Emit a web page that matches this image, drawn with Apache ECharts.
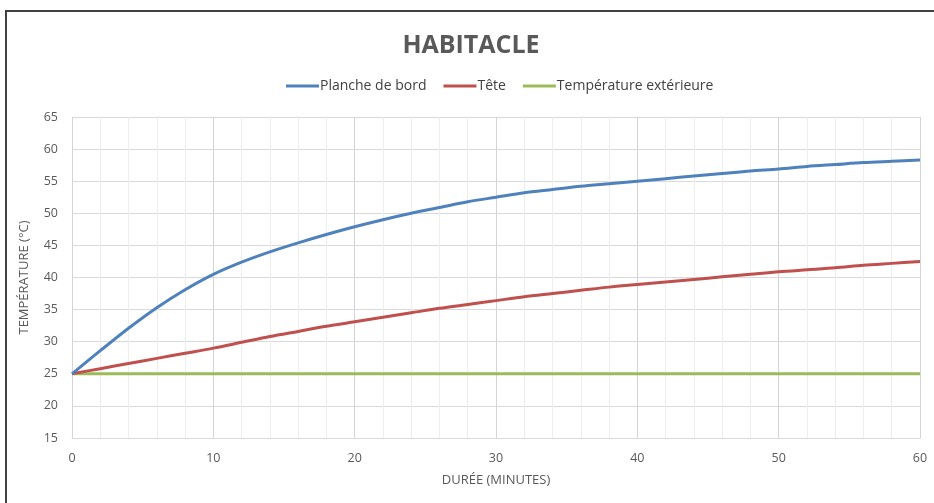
<!DOCTYPE html>
<html>
<head>
<meta charset="utf-8">
<script src="https://cdn.jsdelivr.net/npm/echarts@6/dist/echarts.min.js"></script>
<style>html,body{margin:0;padding:0;background:#fff}#c{width:934px;height:503px}</style>
</head>
<body>
<div id="c"></div>
<script>
const minutes = [0,2,4,6,8,10,12,14,16,18,20,22,24,26,28,30,32,34,36,38,40,42,44,46,48,50,52,54,56,58,60];
const planche = [25,28.6,32.1,35.3,38.1,40.5,42.4,44.0,45.4,46.7,47.9,49.0,50.0,50.9,51.8,52.5,53.2,53.7,54.2,54.6,55.0,55.4,55.8,56.2,56.6,56.9,57.3,57.6,57.9,58.1,58.3];
const tete = [25,25.8,26.6,27.4,28.2,29.0,29.9,30.8,31.6,32.4,33.1,33.8,34.5,35.2,35.8,36.4,37.0,37.5,38.0,38.5,38.9,39.3,39.7,40.1,40.5,40.9,41.2,41.5,41.9,42.2,42.5];
const exterieure = [25,25,25,25,25,25,25,25,25,25,25,25,25,25,25,25,25,25,25,25,25,25,25,25,25,25,25,25,25,25,25];
const seriesNames = ['Planche de bord','Tête','Température extérieure'];
const yTicks = {min:15, max:65, interval:5};
const xTicks = {min:0, max:60, interval:10};

const font = '"Open Sans", sans-serif';
const pair = arr => minutes.map((m,i)=>[m,arr[i]]);
const colors = ['#4f81bd','#c0504d','#9bbb59'];
const datasets = [planche, tete, exterieure];

const chart = echarts.init(document.getElementById('c'));
chart.setOption({
  animation:false,
  title:{text:'HABITACLE', left:466, top:28, textAlign:'center',
    textStyle:{fontFamily:font, fontWeight:'bold', fontSize:25, color:'#595959'}},
  legend:{top:74, left:281, itemWidth:33, itemHeight:3, itemGap:17, icon:'rect',
    textStyle:{fontFamily:font, fontSize:14, color:'#404040', padding:[0,0,0,-4]},
    data:seriesNames},
  graphic:[{type:'rect', shape:{x:6, y:11, width:960, height:520}, style:{fill:'none', stroke:'#404040', lineWidth:2}, silent:true}],
  grid:{left:72, right:14, top:117, bottom:65},
  xAxis:{type:'value', min:xTicks.min, max:xTicks.max, interval:xTicks.interval,
    name:'DURÉE (MINUTES)', nameLocation:'middle', nameGap:36,
    nameTextStyle:{fontFamily:font, fontSize:13, color:'#595959'},
    axisLine:{show:true, lineStyle:{color:'#d9d9d9'}}, axisTick:{show:false},
    axisLabel:{fontFamily:font, fontSize:12.5, color:'#595959', margin:14},
    splitLine:{show:true, lineStyle:{color:'#d4d4d4'}},
    minorTick:{show:false, splitNumber:5},
    minorSplitLine:{show:true, lineStyle:{color:'#ededed'}}},
  yAxis:{type:'value', min:yTicks.min, max:yTicks.max, interval:yTicks.interval,
    name:'TEMPÉRATURE (°C)', nameLocation:'middle', nameGap:41,
    nameTextStyle:{fontFamily:font, fontSize:13, color:'#595959'},
    axisLine:{show:false}, axisTick:{show:false},
    axisLabel:{fontFamily:font, fontSize:12.5, color:'#595959', margin:14},
    splitLine:{show:true, lineStyle:{color:'#d9d9d9'}}},
  series: datasets.map((d,i)=>({
    name:seriesNames[i], type:'line', data:pair(d), smooth:0.3, symbol:'none',
    lineStyle:{width:3, color:colors[i]}, itemStyle:{color:colors[i]}, z: 3 - i
  }))
});
</script>
</body>
</html>
